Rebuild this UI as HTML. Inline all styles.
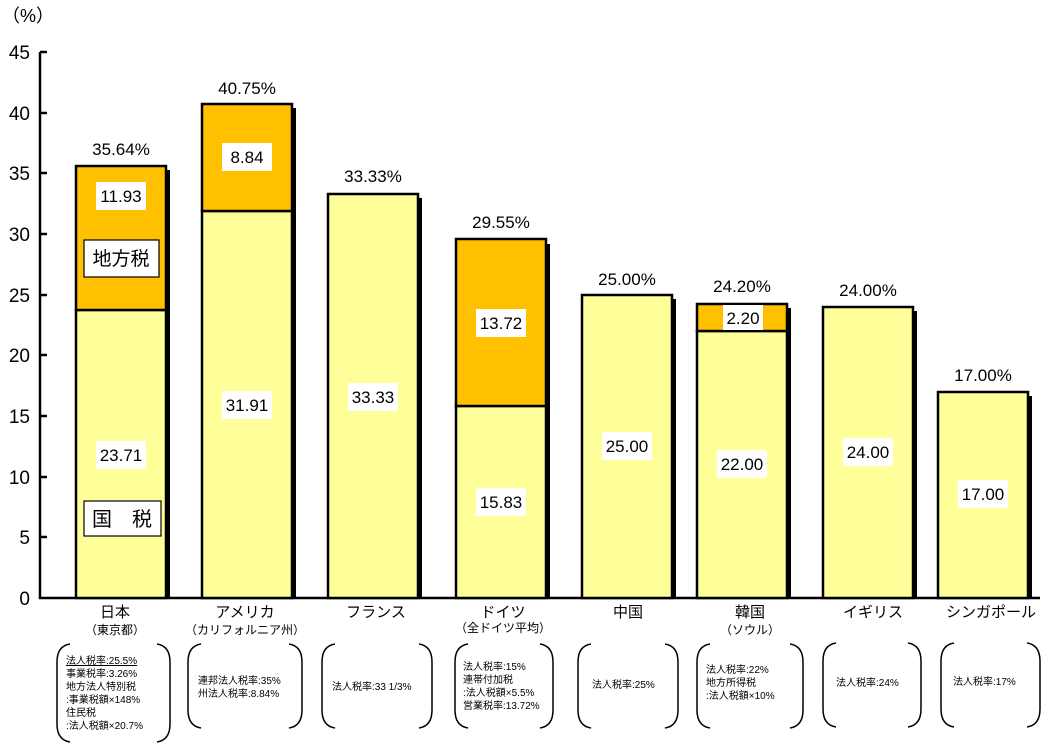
<!DOCTYPE html>
<html><head><meta charset="utf-8"><style>
html,body{margin:0;padding:0;background:#fff;}
svg{display:block;font-family:"Liberation Sans","Noto Sans CJK JP",sans-serif;}
</style></head><body>
<svg width="1051" height="744" viewBox="0 0 1051 744" xmlns="http://www.w3.org/2000/svg">
<g font-size="19" fill="#000">
<text x="2" y="22" font-size="18">（%）</text>
<g text-anchor="end">
<text x="30" y="59">45</text><text x="30" y="120">40</text><text x="30" y="180">35</text>
<text x="30" y="241">30</text><text x="30" y="302">25</text><text x="30" y="362">20</text>
<text x="30" y="423">15</text><text x="30" y="484">10</text><text x="30" y="544">5</text>
<text x="30" y="605">0</text>
</g></g>
<g stroke="#000" stroke-width="2.5">
<line x1="40" y1="52" x2="40" y2="599"/>
<line x1="39" y1="598" x2="1040" y2="598"/>
<line x1="40" y1="52" x2="47" y2="52"/><line x1="40" y1="113" x2="47" y2="113"/>
<line x1="40" y1="173" x2="47" y2="173"/><line x1="40" y1="234" x2="47" y2="234"/>
<line x1="40" y1="295" x2="47" y2="295"/><line x1="40" y1="355" x2="47" y2="355"/>
<line x1="40" y1="416" x2="47" y2="416"/><line x1="40" y1="477" x2="47" y2="477"/>
<line x1="40" y1="537" x2="47" y2="537"/>
</g>
<!-- shadows -->
<g fill="#000">
<rect x="166" y="170" width="4" height="428"/>
<rect x="292" y="108" width="4" height="490"/>
<rect x="418" y="198" width="4" height="400"/>
<rect x="546" y="244" width="4" height="354"/>
<rect x="672" y="299" width="4" height="299"/>
<rect x="787" y="308" width="4" height="290"/>
<rect x="913" y="311" width="4" height="287"/>
<rect x="1028" y="396" width="4" height="202"/>
</g>
<g stroke="#000" stroke-width="2.5">
<rect x="76" y="310" width="90" height="288" fill="#FFFF99"/>
<rect x="76" y="166" width="90" height="144" fill="#FFC000"/>
<rect x="202" y="211" width="90" height="387" fill="#FFFF99"/>
<rect x="202" y="104" width="90" height="107" fill="#FFC000"/>
<rect x="328" y="194" width="90" height="404" fill="#FFFF99"/>
<rect x="456" y="406" width="90" height="192" fill="#FFFF99"/>
<rect x="456" y="239" width="90" height="167" fill="#FFC000"/>
<rect x="582" y="295" width="90" height="303" fill="#FFFF99"/>
<rect x="697" y="331" width="90" height="267" fill="#FFFF99"/>
<rect x="697" y="304" width="90" height="27" fill="#FFC000"/>
<rect x="823" y="307" width="90" height="291" fill="#FFFF99"/>
<rect x="938" y="392" width="90" height="206" fill="#FFFF99"/>
</g>
<!-- white label boxes -->
<g fill="#fff">
<rect x="96" y="182" width="50" height="28"/>
<rect x="96" y="441" width="50" height="28"/>
<rect x="222" y="143" width="50" height="28"/>
<rect x="222" y="391" width="50" height="28"/>
<rect x="348" y="383" width="50" height="28"/>
<rect x="476" y="309" width="50" height="28"/>
<rect x="476" y="488" width="50" height="28"/>
<rect x="602" y="432" width="50" height="28"/>
<rect x="723" y="305" width="40" height="25"/>
<rect x="717" y="450" width="50" height="28"/>
<rect x="843" y="438" width="50" height="28"/>
<rect x="958" y="480" width="50" height="28"/>
</g>
<rect x="84" y="240" width="75" height="37" fill="#fff" stroke="#000" stroke-width="1.2"/>
<rect x="84" y="501" width="77" height="35" fill="#fff" stroke="#000" stroke-width="1.2"/>
<g font-size="17" text-anchor="middle" fill="#000">
<text x="121" y="202">11.93</text>
<text x="121" y="461">23.71</text>
<text x="247" y="163">8.84</text>
<text x="247" y="411">31.91</text>
<text x="373" y="403">33.33</text>
<text x="501" y="329">13.72</text>
<text x="501" y="508">15.83</text>
<text x="627" y="452">25.00</text>
<text x="743" y="324">2.20</text>
<text x="742" y="470">22.00</text>
<text x="868" y="458">24.00</text>
<text x="983" y="500">17.00</text>
<text x="121" y="265" font-size="19">地方税</text>
<text x="122" y="526" font-size="20">国　税</text>
</g>
<g font-size="17" text-anchor="middle" fill="#000">
<text x="121" y="155">35.64%</text>
<text x="247" y="94">40.75%</text>
<text x="373" y="182">33.33%</text>
<text x="501" y="228">29.55%</text>
<text x="627" y="285">25.00%</text>
<text x="742" y="292">24.20%</text>
<text x="868" y="296">24.00%</text>
<text x="983" y="381">17.00%</text>
</g>
<g font-size="15" text-anchor="middle" fill="#000">
<text x="115" y="617">日本</text>
<text x="115" y="634" font-size="12">（東京都）</text>
<text x="245" y="617">アメリカ</text>
<text x="245" y="634" font-size="12">（カリフォルニア州）</text>
<text x="376" y="617">フランス</text>
<text x="503" y="617">ドイツ</text>
<text x="503" y="632" font-size="12">（全ドイツ平均）</text>
<text x="628" y="617">中国</text>
<text x="750" y="617">韓国</text>
<text x="750" y="634" font-size="12">（ソウル）</text>
<text x="873" y="617">イギリス</text>
<text x="991" y="617">シンガポール</text>
</g>
<!-- brackets -->
<g fill="none" stroke="#000" stroke-width="1.5">
<path d="M70 644 Q57 646 57 662 L57 724 Q57 740 70 742 M157 644 Q170 646 170 662 L170 724 Q170 740 157 742"/>
<path d="M201 644 Q188 646 188 662 L188 710 Q188 726 201 728 M289 644 Q302 646 302 662 L302 710 Q302 726 289 728"/>
<path d="M335 644 Q322 646 322 662 L322 710 Q322 726 335 728 M419 644 Q432 646 432 662 L432 710 Q432 726 419 728"/>
<path d="M468 644 Q455 646 455 662 L455 710 Q455 726 468 728 M540 644 Q553 646 553 662 L553 710 Q553 726 540 728"/>
<path d="M591 644 Q578 646 578 662 L578 710 Q578 726 591 728 M665 644 Q678 646 678 662 L678 710 Q678 726 665 728"/>
<path d="M710 644 Q697 646 697 662 L697 710 Q697 726 710 728 M790 644 Q803 646 803 662 L803 710 Q803 726 790 728"/>
<path d="M836 643 Q823 645 823 661 L823 709 Q823 725 836 727 M908 643 Q921 645 921 661 L921 709 Q921 725 908 727"/>
<path d="M954 643 Q941 645 941 661 L941 709 Q941 725 954 727 M1027 643 Q1040 645 1040 661 L1040 709 Q1040 725 1027 727"/>
</g>
<g font-size="10" fill="#000">
<text x="66" y="664" text-decoration="underline">法人税率:25.5%</text>
<text x="66" y="677">事業税率:3.26%</text>
<text x="66" y="690">地方法人特別税</text>
<text x="66" y="703">:事業税額×148%</text>
<text x="66" y="716">住民税</text>
<text x="66" y="729">:法人税額×20.7%</text>
<text x="198" y="684">連邦法人税率:35%</text>
<text x="198" y="697">州法人税率:8.84%</text>
<text x="332" y="690">法人税率:33 1/3%</text>
<text x="463" y="670">法人税率:15%</text>
<text x="463" y="683">連帯付加税</text>
<text x="463" y="696">:法人税額×5.5%</text>
<text x="463" y="709">営業税率:13.72%</text>
<text x="592" y="688">法人税率:25%</text>
<text x="706" y="673">法人税率:22%</text>
<text x="706" y="686">地方所得税</text>
<text x="706" y="699">:法人税額×10%</text>
<text x="836" y="686">法人税率:24%</text>
<text x="953" y="685">法人税率:17%</text>
</g>
</svg>
</body></html>
